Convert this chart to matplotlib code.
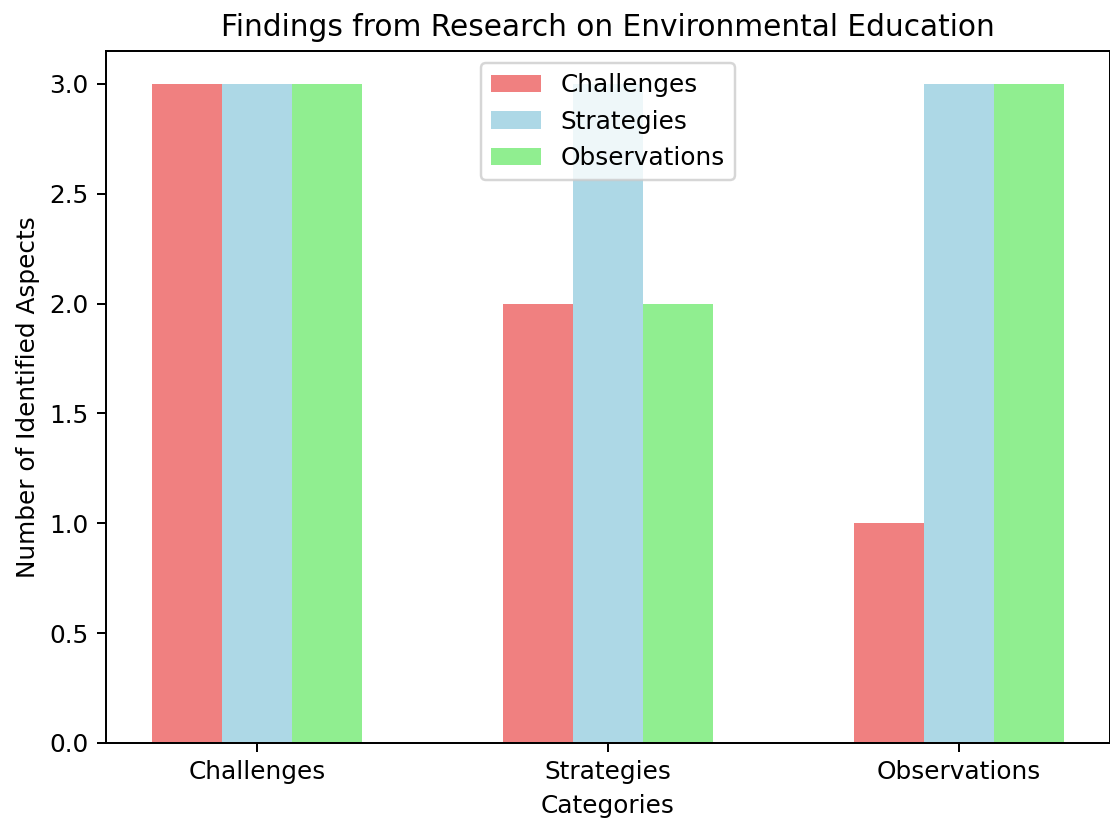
import numpy as np
from matplotlib import pyplot as plt

categories = ['Challenges', 'Strategies', 'Observations']
challenges = [3, 2, 1]
strategies = [3, 3, 3]
observations = [3, 2, 3]


def plot():
    x = np.arange(len(categories))
    width = 0.2
    dpi = 178

    fig = plt.figure(figsize=(1110 / dpi, 821 / dpi), dpi=dpi)
    ax = fig.add_axes([106 / 1110, 78 / 821, 1004 / 1110, 692 / 821])
    ax.bar(x - width, challenges, width, label='Challenges', color='lightcoral')
    ax.bar(x, strategies, width, label='Strategies', color='lightblue')
    ax.bar(x + width, observations, width, label='Observations', color='lightgreen')

    ax.set_title('Findings from Research on Environmental Education')
    ax.set_xlabel('Categories')
    ax.set_ylabel('Number of Identified Aspects')
    ax.set_xticks(x)
    ax.set_xticklabels(categories)
    ax.legend(loc='upper center')
    plt.savefig('out.png', dpi=dpi)


if __name__ == '__main__':
    plot()
